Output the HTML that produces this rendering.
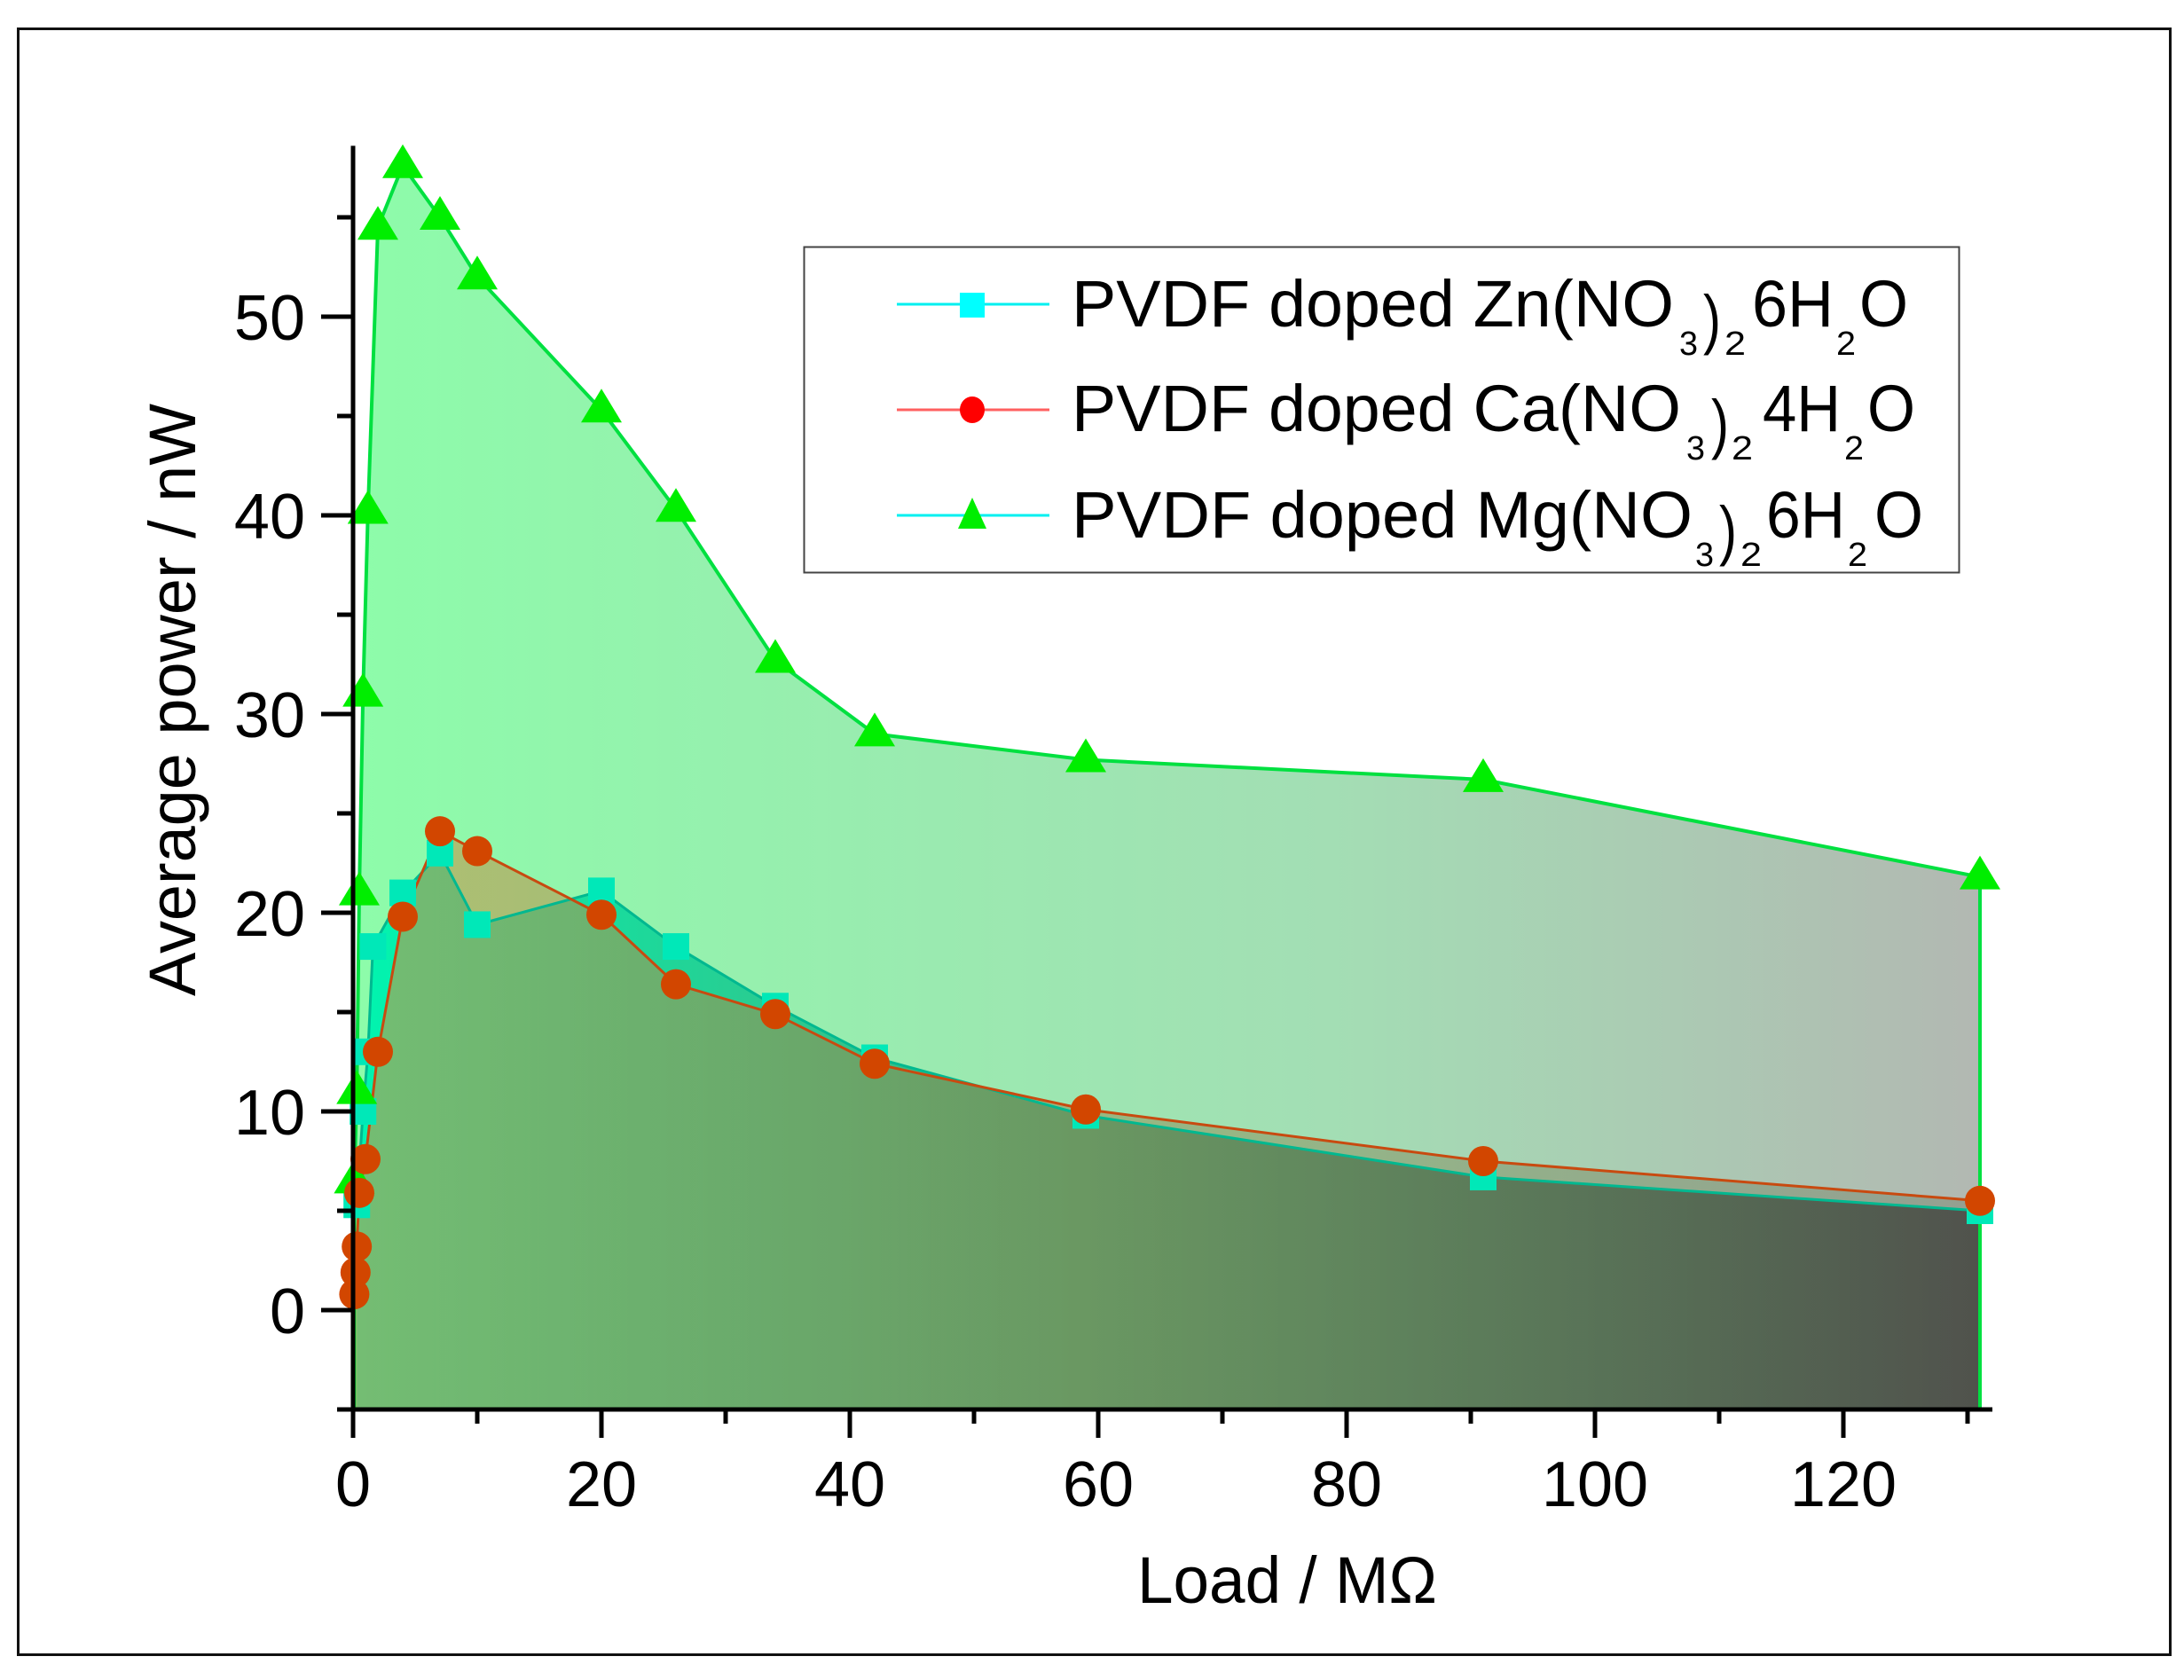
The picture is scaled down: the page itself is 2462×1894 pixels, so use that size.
<!DOCTYPE html>
<html><head><meta charset="utf-8"><style>
html,body{margin:0;padding:0;background:#fff;}
svg{display:block;font-family:"Liberation Sans",sans-serif;}
</style></head><body>
<svg id="chart" width="2462" height="1894" viewBox="0 0 2462 1894" xmlns="http://www.w3.org/2000/svg">
<defs>
<linearGradient id="gMg" gradientUnits="userSpaceOnUse" x1="398" y1="0" x2="2232" y2="0">
<stop offset="0" stop-color="rgb(141,252,170)"/><stop offset="0.6" stop-color="rgb(163,222,180)"/><stop offset="1" stop-color="rgb(178,184,178)"/>
</linearGradient>
<linearGradient id="gZn" gradientUnits="userSpaceOnUse" x1="398" y1="0" x2="2232" y2="0">
<stop offset="0" stop-color="rgb(0,245,176)"/><stop offset="0.45" stop-color="rgb(74,172,121)"/><stop offset="1" stop-color="rgb(80,73,79)"/>
</linearGradient>
<linearGradient id="gCa" gradientUnits="userSpaceOnUse" x1="398" y1="0" x2="2232" y2="0">
<stop offset="0" stop-color="rgb(202,148,70)" stop-opacity="0.575"/><stop offset="0.45" stop-color="rgb(145,127,70)" stop-opacity="0.45"/><stop offset="1" stop-color="rgb(81,103,70)" stop-opacity="0.3"/>
</linearGradient>
</defs>
<rect x="20.5" y="32.5" width="2426" height="1833" fill="none" stroke="#111" stroke-width="3"/>
<g id="plot"></g>
<g id="axes"></g>
<text transform="translate(220,789) rotate(-90)" text-anchor="middle" font-size="74" textLength="668" lengthAdjust="spacingAndGlyphs">Average power / nW</text>
<text x="1451" y="1807" text-anchor="middle" font-size="74" textLength="338" lengthAdjust="spacingAndGlyphs">Load / MΩ</text>
<g font-size="74">
<rect x="906.5" y="278.5" width="1302" height="367" fill="#fff" stroke="#444" stroke-width="2"/>
<g>
<line x1="1011" y1="343" x2="1183" y2="343" stroke="#00f0f0" stroke-width="3"/>
<rect x="1082" y="330" width="28" height="28" fill="#00ffff"/>
<text x="1208" y="368" textLength="679" lengthAdjust="spacingAndGlyphs">PVDF doped Zn(NO</text>
<text x="1893" y="400" font-size="38" textLength="21" lengthAdjust="spacingAndGlyphs">3</text>
<text x="1920" y="385" textLength="20" lengthAdjust="spacingAndGlyphs">)</text>
<text x="1944" y="400" font-size="38" textLength="24" lengthAdjust="spacingAndGlyphs">2</text>
<text x="1975" y="368" textLength="92" lengthAdjust="spacingAndGlyphs">6H</text>
<text x="2070" y="400" font-size="38" textLength="22" lengthAdjust="spacingAndGlyphs">2</text>
<text x="2096" y="368" textLength="55" lengthAdjust="spacingAndGlyphs">O</text>
</g>
<g>
<line x1="1011" y1="462" x2="1183" y2="462" stroke="#ff6060" stroke-width="3"/>
<ellipse cx="1096" cy="462" rx="14" ry="15" fill="#ff0000"/>
<text x="1208" y="486" textLength="687" lengthAdjust="spacingAndGlyphs">PVDF doped Ca(NO</text>
<text x="1901" y="518" font-size="38" textLength="21" lengthAdjust="spacingAndGlyphs">3</text>
<text x="1929" y="503" textLength="20" lengthAdjust="spacingAndGlyphs">)</text>
<text x="1952" y="518" font-size="38" textLength="24" lengthAdjust="spacingAndGlyphs">2</text>
<text x="1987" y="486" textLength="88" lengthAdjust="spacingAndGlyphs">4H</text>
<text x="2079" y="518" font-size="38" textLength="22" lengthAdjust="spacingAndGlyphs">2</text>
<text x="2105" y="486" textLength="54" lengthAdjust="spacingAndGlyphs">O</text>
</g>
<g>
<line x1="1011" y1="581" x2="1183" y2="581" stroke="#00f0f0" stroke-width="3"/>
<polygon points="1096,561 1112,596 1080,596" fill="#00ee00"/>
<text x="1208" y="606" textLength="700" lengthAdjust="spacingAndGlyphs">PVDF doped Mg(NO</text>
<text x="1911" y="638" font-size="38" textLength="21" lengthAdjust="spacingAndGlyphs">3</text>
<text x="1938" y="623" textLength="20" lengthAdjust="spacingAndGlyphs">)</text>
<text x="1962" y="638" font-size="38" textLength="24" lengthAdjust="spacingAndGlyphs">2</text>
<text x="1991" y="606" textLength="89" lengthAdjust="spacingAndGlyphs">6H</text>
<text x="2083" y="638" font-size="38" textLength="22" lengthAdjust="spacingAndGlyphs">2</text>
<text x="2113" y="606" textLength="55" lengthAdjust="spacingAndGlyphs">O</text>
</g>
</g>
</svg>
<script>
const mgX = [0.1,0.3,0.5,0.8,1.2,2,4,7,10,20,26,34,42,59,91,131];
const mgY = [6.5,11,21,31,40.2,54.5,57.6,55,52,45.3,40.3,32.7,29,27.7,26.7,21.8];
const caX = [0.1,0.2,0.3,0.5,1,2,4,7,10,20,26,34,42,59,91,131];
const caY = [0.8,1.9,3.2,5.9,7.6,13,19.8,24.1,23.1,19.9,16.4,14.9,12.4,10.1,7.5,5.5];
const znX = [0.3,0.8,1.2,1.6,4,7,10,20,26,34,42,59,91,131];
const znY = [5.3,10,13,18.3,21,23,19.4,21.1,18.3,15.3,12.7,9.8,6.7,5];
const yTicks = [0,10,20,30,40,50];
const xTicks = [0,20,40,60,80,100,120];

const NS = "http://www.w3.org/2000/svg";
const X0 = 398, XS = 14, Y0 = 1477, YS = 22.4;
const sx = v => X0 + v * XS;
const sy = v => Y0 - v * YS;
const yBottom = sy(-5), yTop = sy(58.6), xRight = sx(132);
function mk(tag, attrs, parent) {
  const e = document.createElementNS(NS, tag);
  for (const k in attrs) e.setAttribute(k, attrs[k]);
  parent.appendChild(e);
  return e;
}
const plot = document.getElementById('plot');
const axes = document.getElementById('axes');
function areaPath(xs, ys) {
  let d = 'M' + sx(xs[0]) + ',' + yBottom;
  xs.forEach((x, i) => { d += ' L' + sx(x) + ',' + sy(ys[i]); });
  d += ' L' + sx(xs[xs.length - 1]) + ',' + yBottom + ' Z';
  return d;
}
function linePts(xs, ys) { return xs.map((x, i) => sx(x) + ',' + sy(ys[i])).join(' '); }

let a = mk('path', {d: areaPath(mgX, mgY), fill: 'url(#gMg)'}, plot);


a = mk('path', {d: areaPath(znX, znY), fill: 'url(#gZn)'}, plot);


a = mk('path', {d: areaPath(caX, caY), fill: 'url(#gCa)'}, plot);



let l = mk('polyline', {points: linePts(mgX, mgY), fill: 'none', stroke: '#00e040', 'stroke-width': 4}, plot);


l = mk('line', {x1: sx(131), y1: sy(mgY[mgY.length-1]), x2: sx(131), y2: yBottom, stroke: '#00e040', 'stroke-width': 4}, plot);


l = mk('line', {x1: sx(mgX[0]), y1: sy(mgY[0]), x2: sx(mgX[0]), y2: yBottom, stroke: '#00e040', 'stroke-width': 4}, plot);


l = mk('polyline', {points: linePts(znX, znY), fill: 'none', stroke: '#00b890', 'stroke-width': 3}, plot);


l = mk('polyline', {points: linePts(caX, caY), fill: 'none', stroke: '#c84a10', 'stroke-width': 3}, plot);



znX.forEach((x, i) => {
  const m = mk('rect', {x: sx(x) - 15, y: sy(znY[i]) - 15, width: 30, height: 30, fill: '#00e8b8'}, plot);
  
  
});
mgX.forEach((x, i) => {
  const cx = sx(x), cy = sy(mgY[i]);
  const m = mk('polygon', {points: (cx) + ',' + (cy - 24) + ' ' + (cx + 23) + ',' + (cy + 14) + ' ' + (cx - 23) + ',' + (cy + 14), fill: '#00ee00'}, plot);
  
  
});
caX.forEach((x, i) => {
  const m = mk('ellipse', {cx: sx(x), cy: sy(caY[i]), rx: 17, ry: 17, fill: '#d24600'}, plot);
  
  
});

let ax = mk('line', {x1: X0, y1: yTop, x2: X0, y2: yBottom + 2, stroke: '#000', 'stroke-width': 5}, axes);


ax = mk('line', {x1: X0 - 2, y1: yBottom, x2: xRight, y2: yBottom, stroke: '#000', 'stroke-width': 5}, axes);


for (let v = -5; v <= 55; v += 5) {
  const major = v % 10 === 0;
  const t = mk('line', {x1: X0 - (major ? 36 : 18), y1: sy(v), x2: X0, y2: sy(v), stroke: '#000', 'stroke-width': 5}, axes);
  
  
}
yTicks.forEach(v => {
  const t = mk('text', {x: 344, y: sy(v) + 26, 'text-anchor': 'end', 'font-size': 72}, axes);
  t.textContent = v;
  
  
});
for (let v = 0; v <= 130; v += 10) {
  const major = v % 20 === 0;
  const t = mk('line', {x1: sx(v), y1: yBottom, x2: sx(v), y2: yBottom + (major ? 32 : 16), stroke: '#000', 'stroke-width': 5}, axes);
  
  
}
xTicks.forEach(v => {
  const t = mk('text', {x: sx(v), y: 1698, 'text-anchor': 'middle', 'font-size': 72}, axes);
  t.textContent = v;
  
  
});
</script>
</body></html>
